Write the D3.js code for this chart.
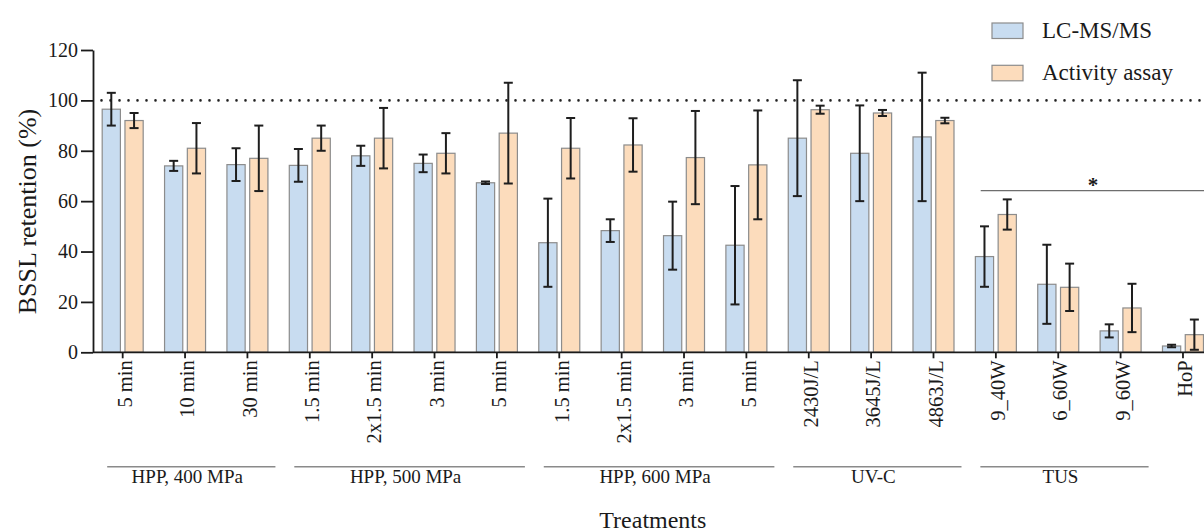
<!DOCTYPE html>
<html>
<head>
<meta charset="utf-8">
<script src="https://cdn.jsdelivr.net/npm/d3@7"></script>
<style>
  body { margin: 0; background: #fff; }
  svg { display: block; font-family: "Liberation Serif", "Times New Roman", serif; }
</style>
</head>
<body>
<div id="chart"></div>
<script>
// Treatments (x categories)
const categories = ["5 min", "10 min", "30 min",
  "1.5 min", "2x1.5 min", "3 min", "5 min",
  "1.5 min", "2x1.5 min", "3 min", "5 min",
  "2430J/L", "3645J/L", "4863J/L",
  "9_40W", "6_60W", "9_60W", "HoP"];

// BSSL retention (%) – LC-MS/MS
const lcms = [96.5, 74, 74.5, 74.2, 78, 75, 67.3, 43.5, 48.3, 46.3, 42.5, 85, 79, 85.5, 38, 27, 8.5, 2.5];
const lcmsErr = [6.5, 2, 6.5, 6.5, 4, 3.5, 0.5, 17.5, 4.5, 13.5, 23.5, 23, 19, 25.5, 12, 15.7, 2.6, 0.5];

// BSSL retention (%) – Activity assay
const activity = [92, 81, 77, 85, 85, 79, 87, 81, 82.3, 77.3, 74.4, 96.3, 95, 92, 54.7, 25.8, 17.6, 7];
const activityErr = [3, 10, 13, 5, 12, 8, 20, 12, 10.6, 18.5, 21.6, 1.6, 1.2, 1.1, 6, 9.4, 9.6, 6];

// Treatment groups (first / last index)
const groupLabels = ["HPP, 400 MPa", "HPP, 500 MPa", "HPP, 600 MPa", "UV-C", "TUS"];
const groupStart = [0, 3, 7, 11, 14];
const groupEnd = [2, 6, 10, 13, 16];

const yTicks = [0, 20, 40, 60, 80, 100, 120];
const seriesNames = ["LC-MS/MS", "Activity assay"];
const refLine = 100;      // dotted reference line
const sigLevel = 64.2;    // "*" bracket height

const colors = { "LC-MS/MS": "#c8dcf0", "Activity assay": "#fcdcbc" };

const width = 1204;
const height = 532;
const axisLeftX = 93;

const svg = d3.select("#chart")
  .append("svg")
  .attr("width", width)
  .attr("height", height);

// scales
const x = d3.scaleBand()
  .domain(d3.range(categories.length))
  .range([91.5, 91.5 + categories.length * 62.37])
  .padding(0);

const x1 = d3.scaleBand()
  .domain(seriesNames)
  .range([-20.5, 20.5])
  .paddingInner(0.2);

const y = d3.scaleLinear()
  .domain([0, 120])
  .range([352.3, 50]);

const rows = categories.map((c, i) => ({
  i,
  values: [
    { key: "LC-MS/MS", v: lcms[i], e: lcmsErr[i] },
    { key: "Activity assay", v: activity[i], e: activityErr[i] }
  ]
}));

// dotted line at 100 %
svg.append("line")
  .attr("x1", 101.5)
  .attr("x2", width)
  .attr("y1", y(refLine))
  .attr("y2", y(refLine))
  .attr("stroke", "#222")
  .attr("stroke-width", 2.6)
  .attr("stroke-linecap", "round")
  .attr("stroke-dasharray", "0,9");

// bars
const grp = svg.selectAll(".cat")
  .data(rows)
  .enter()
  .append("g")
  .attr("class", "cat")
  .attr("transform", d => `translate(${x(d.i) + x.bandwidth() / 2},0)`);

grp.selectAll("rect")
  .data(d => d.values)
  .enter()
  .append("rect")
  .attr("x", d => x1(d.key))
  .attr("y", d => y(d.v))
  .attr("width", x1.bandwidth())
  .attr("height", d => y(0) - y(d.v))
  .attr("fill", d => colors[d.key])
  .attr("stroke", "#8c8c8c")
  .attr("stroke-width", 1.2);

// error bars
const err = grp.selectAll(".err")
  .data(d => d.values)
  .enter()
  .append("g")
  .attr("class", "err")
  .attr("transform", d => `translate(${x1(d.key) + x1.bandwidth() / 2},0)`)
  .attr("stroke", "#1e1e1e")
  .attr("stroke-width", 2);

err.append("line")
  .attr("y1", d => y(d.v + d.e))
  .attr("y2", d => y(Math.max(0, d.v - d.e)));
err.append("line")
  .attr("x1", -4.5).attr("x2", 4.5)
  .attr("y1", d => y(d.v + d.e))
  .attr("y2", d => y(d.v + d.e));
err.append("line")
  .attr("x1", -4.5).attr("x2", 4.5)
  .attr("y1", d => y(Math.max(0, d.v - d.e)))
  .attr("y2", d => y(Math.max(0, d.v - d.e)));

// y axis
const yAxis = svg.append("g")
  .attr("transform", `translate(${axisLeftX},0)`)
  .call(d3.axisLeft(y).tickValues(yTicks).tickSize(12).tickPadding(3).tickSizeOuter(0));
yAxis.selectAll("path, line").attr("stroke", "#1a1a1a").attr("stroke-width", 1.8);
yAxis.selectAll("text")
  .style("font-family", "Liberation Serif")
  .style("font-size", "20px")
  .attr("fill", "#1a1a1a");

// x axis
const xAxis = svg.append("g")
  .attr("transform", `translate(0,${y(0)})`)
  .call(d3.axisBottom(x).tickSize(6).tickFormat(i => categories[i]));
xAxis.select(".domain").remove();
xAxis.selectAll("line").attr("stroke", "#1a1a1a").attr("stroke-width", 1.8);
xAxis.selectAll("text")
  .attr("transform", "rotate(-90)")
  .attr("x", -8)
  .attr("y", 0)
  .attr("dy", "0.45em")
  .style("text-anchor", "end")
  .style("font-family", "Liberation Serif")
  .style("font-size", "20.5px")
  .attr("fill", "#1a1a1a");

svg.append("line")
  .attr("x1", axisLeftX)
  .attr("x2", width)
  .attr("y1", y(0))
  .attr("y2", y(0))
  .attr("stroke", "#1a1a1a")
  .attr("stroke-width", 1.8);

// y axis title
svg.append("text")
  .attr("transform", `translate(35.5,211.5) rotate(-90)`)
  .attr("text-anchor", "middle")
  .style("font-size", "26px")
  .attr("fill", "#1a1a1a")
  .text("BSSL retention (%)");

// group brackets under the axis
groupLabels.forEach((g, k) => {
  const gx1 = x(groupStart[k]) + x.bandwidth() / 2 - 15.5;
  const gx2 = x(groupEnd[k]) + x.bandwidth() / 2 + 28;
  svg.append("line")
    .attr("x1", gx1).attr("x2", gx2)
    .attr("y1", 466.7).attr("y2", 466.7)
    .attr("stroke", "#8a8a8a")
    .attr("stroke-width", 1.6);
  svg.append("text")
    .attr("x", (gx1 + gx2) / 2 - 4)
    .attr("y", 483)
    .attr("text-anchor", "middle")
    .style("font-size", "19px")
    .attr("fill", "#1a1a1a")
    .text(g);
});

// x axis title
svg.append("text")
  .attr("x", (x.range()[0] + x.range()[1]) / 2)
  .attr("y", 528)
  .attr("text-anchor", "middle")
  .style("font-size", "24px")
  .attr("fill", "#1a1a1a")
  .text("Treatments");

// significance bracket
svg.append("line")
  .attr("x1", 980.7)
  .attr("x2", width)
  .attr("y1", y(sigLevel))
  .attr("y2", y(sigLevel))
  .attr("stroke", "#6e6e6e")
  .attr("stroke-width", 1.3);
svg.append("text")
  .attr("x", 1093)
  .attr("y", y(sigLevel) + 1)
  .attr("text-anchor", "middle")
  .style("font-size", "21px")
  .style("font-weight", "bold")
  .attr("fill", "#1a1a1a")
  .text("*");

// legend
const legend = svg.append("g")
  .attr("transform", "translate(992,23)");

seriesNames.forEach((s, i) => {
  legend.append("rect")
    .attr("x", 0)
    .attr("y", i * 42.3)
    .attr("width", 31)
    .attr("height", 15.5)
    .attr("fill", colors[s])
    .attr("stroke", "#8c8c8c")
    .attr("stroke-width", 1.2);

  legend.append("text")
    .attr("x", 50)
    .attr("y", i * 42.3 + 14.5)
    .style("font-size", "23px")
    .attr("fill", "#1a1a1a")
    .text(s);
});
</script>
</body>
</html>
